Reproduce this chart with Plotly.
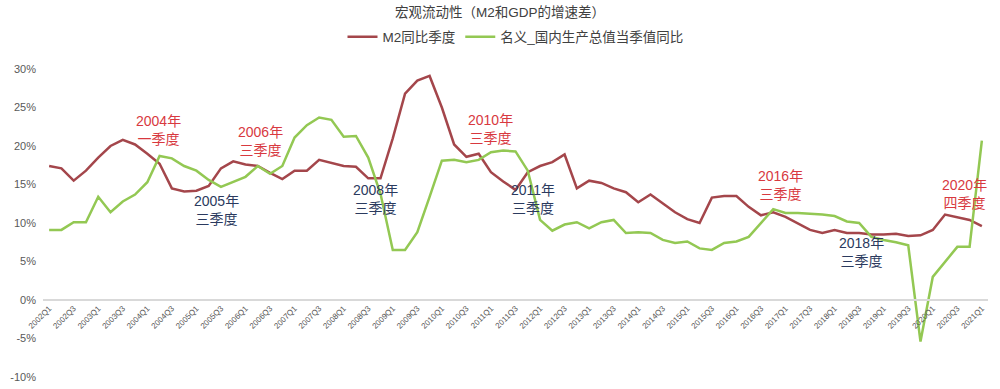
import plotly.graph_objects as go

quarters = [f"{y}Q{q}" for y in range(2002, 2022) for q in range(1, 5)][:77]

m2_yoy = [17.4, 17.1, 15.5, 16.8, 18.5, 20.0, 20.8, 20.2, 19.0, 17.7,
          14.5, 14.1, 14.2, 14.8, 17.1, 18.0, 17.6, 17.4, 16.5, 15.7,
          16.8, 16.8, 18.2, 17.8, 17.4, 17.3, 15.8, 15.8, 21.0, 26.8,
          28.5, 29.1, 25.0, 20.2, 18.6, 19.0, 16.6, 15.4, 14.3, 16.6,
          17.4, 17.9, 18.9, 14.5, 15.5, 15.2, 14.5, 14.0, 12.7, 13.7,
          12.5, 11.4, 10.5, 10.0, 13.3, 13.5, 13.5, 12.1, 11.0, 11.4,
          10.8, 10.0, 9.1, 8.7, 9.1, 8.7, 8.7, 8.5, 8.5, 8.6,
          8.3, 8.4, 9.1, 11.1, 10.7, 10.4, 9.6]

gdp_nominal_yoy = [9.1, 9.1, 10.1, 10.1, 13.4, 11.4, 12.8, 13.7, 15.3, 18.7,
                   18.4, 17.4, 16.8, 15.6, 14.7, 15.3, 16.0, 17.4, 16.4, 17.4,
                   21.1, 22.7, 23.7, 23.4, 21.2, 21.3, 18.5, 13.8, 6.5, 6.5,
                   8.8, 13.4, 18.1, 18.2, 17.9, 18.2, 19.2, 19.4, 19.3, 16.8,
                   10.4, 9.0, 9.8, 10.1, 9.3, 10.1, 10.4, 8.7, 8.8, 8.7,
                   7.8, 7.4, 7.6, 6.7, 6.5, 7.4, 7.6, 8.2, 10.0, 11.8,
                   11.3, 11.3, 11.2, 11.1, 10.9, 10.2, 10.0, 8.2, 7.8, 7.5,
                   7.1, -5.4, 3.0, 4.9, 6.9, 6.9, 20.7]

tick_labels = quarters[::2]
y_ticks = [-10, -5, 0, 5, 10, 15, 20, 25, 30]

# annotations: (text, x index, y value, colour kind)
note_texts = ["2004年<br>一季度", "2005年<br>三季度", "2006年<br>三季度",
              "2008年<br>三季度", "2010年<br>三季度", "2011年<br>三季度",
              "2016年<br>三季度", "2018年<br>三季度", "2020年<br>四季度"]
note_x = [8.9, 13.6, 17.2, 26.6, 36.0, 39.4, 59.6, 66.2, 74.6]
note_y = [22.1, 11.7, 20.6, 13.1, 22.2, 13.1, 14.9, 6.2, 13.8]
note_kind = ["r", "b", "r", "b", "r", "b", "r", "b", "r"]

RED_LINE = "#a4464b"
GREEN_LINE = "#93c853"
RED_TXT = "#d8393f"
BLUE_TXT = "#2b3a5e"
FONT = "Liberation Sans, Noto Sans CJK SC, sans-serif"

fig = go.Figure()
fig.add_trace(go.Scatter(x=quarters, y=m2_yoy, mode="lines", name="M2同比季度",
                         line=dict(color=RED_LINE, width=2.5)))
fig.add_trace(go.Scatter(x=quarters, y=gdp_nominal_yoy, mode="lines",
                         name="名义_国内生产总值当季值同比",
                         line=dict(color=GREEN_LINE, width=2.5)))

for t, x, y, k in zip(note_texts, note_x, note_y, note_kind):
    fig.add_annotation(x=x, y=y, xref="x", yref="y", text=t, showarrow=False,
                       font=dict(size=14, color=RED_TXT if k == "r" else BLUE_TXT,
                                 family=FONT),
                       align="center", xanchor="center", yanchor="middle")

fig.update_layout(
    width=1000, height=389,
    margin=dict(l=43, r=12, t=69, b=12, autoexpand=False),
    paper_bgcolor="white", plot_bgcolor="white",
    font=dict(family=FONT, color="#555555"),
    title=dict(text="宏观流动性（M2和GDP的增速差）", x=0.5, xanchor="center",
               y=1 - 12 / 389, yanchor="middle",
               font=dict(size=13.5, color="#404040", family=FONT)),
    legend=dict(orientation="h", x=0.5, xanchor="center", y=1.104, yanchor="middle",
                font=dict(size=13.5, color="#404040", family=FONT),
                itemwidth=30, bgcolor="rgba(0,0,0,0)"),
    showlegend=True,
)

fig.update_xaxes(type="category", categoryorder="array", categoryarray=quarters,
                 range=[-0.5, 76.5], tickvals=tick_labels, ticktext=tick_labels,
                 tickangle=-45, tickfont=dict(size=8, color="#555555", family=FONT),
                 showgrid=False, zeroline=False, showline=True, linecolor="#d9d9d9",
                 linewidth=1.5, ticks="", anchor="free", position=0.25)
fig.update_yaxes(range=[-10, 30], tickvals=y_ticks,
                 ticktext=[f"{v}%" for v in y_ticks],
                 tickfont=dict(size=11, color="#595959", family=FONT),
                 showgrid=False, zeroline=False, showline=False, ticks="",
                 ticklabelstandoff=6)

fig.write_html("out.html",
               config={"displayModeBar": False},
               post_script="document.body.style.margin='0';document.body.style.overflow='hidden';")
